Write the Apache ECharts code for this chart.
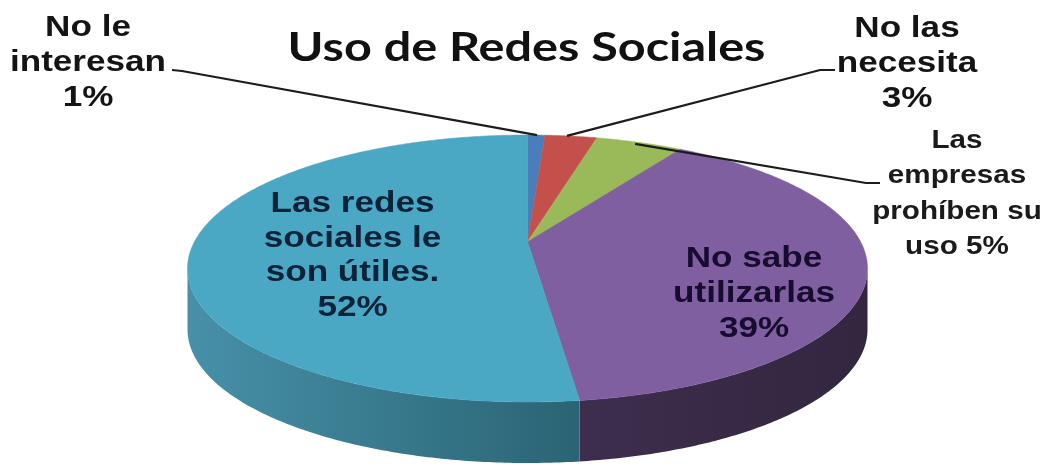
<!DOCTYPE html>
<html><head><meta charset="utf-8">
<style>html,body{margin:0;padding:0;background:#fff}#c{width:1047px;height:464px}</style>
<script src="https://cdn.jsdelivr.net/npm/echarts@6/dist/echarts.min.js"></script>
</head><body><div id="c"></div>
<script>
const title = 'Uso de Redes Sociales';
const categories = ['No le interesan', 'No las necesita', 'Las empresas prohíben su uso', 'No sabe utilizarlas', 'Las redes sociales le son útiles.'];
const values = [1, 3, 5, 39, 52];
const labelTexts = ['No le\ninteresan\n1%', 'No las\nnecesita\n3%', 'Las\nempresas\nprohíben su\nuso 5%', 'No sabe\nutilizarlas\n39%', 'Las redes\nsociales le\nson útiles.\n52%'];
const faceColors = ['#4a7ebb', '#c4504c', '#9aba59', '#7f5fa0', '#4aa8c4'];
const wallColors = [null, null, null, ['#3d2e4e', '#33263f'], ['#4790a8', '#2a6474']];
const textColors = ['#141414', '#141414', '#1a1a1a', '#170c30', '#0b2238'];
// layout (pixels): label centre, font size, width stretch, line height, leader label-side points
const labelPos = [[88, 63], [907, 64], [957, 194], [754, 294], [352.5, 256]];
const labelSize = [29, 29, 26, 29, 29];
const labelStretch = [1.21, 1.21, 1.14, 1.21, 1.21];
const labelLine = [35, 35, 35.5, 35, 34.5];
const leaderFrom = [[[172, 70], [182, 71]], [[835, 70], [820, 70]], [[880, 183], [866, 183]], null, null];
const leaderFrac = [0.55, 0.42, 0.45, 0.5, 0.5];

const cx = 527.5, cy = 268.5, rx = 340, ry = 133.5, persp = 0.2, depth = 61;
const total = values.reduce((a, b) => a + b, 0);
// circle angle (clockwise from top) -> projected point on the tilted disc
function pt(t, dy) {
  const x = Math.sin(t), y = Math.cos(t), w = 1 + persp * y;
  const X = x / w * Math.sqrt(1 - persp * persp) * rx;
  const Y = (y / w + persp / (1 - persp * persp)) * (1 - persp * persp) * ry;
  return [cx + X, cy - Y + (dy || 0)];
}
function arc(a, b, dy) {
  const n = Math.max(2, Math.ceil(Math.abs(b - a) / 0.01)), out = [];
  for (let i = 0; i <= n; i++) out.push(pt(a + (b - a) * i / n, dy));
  return out;
}
const wallA = Math.acos(-persp), wallB = 2 * Math.PI - wallA;
const starts = []; values.reduce((s, v, i) => (starts[i] = s, s + v), 0);

function renderItem(params, api) {
  const i = params.dataIndex, v = api.value(0), s0 = api.value(1);
  const a = s0 / total * 2 * Math.PI, b = (s0 + v) / total * 2 * Math.PI;
  const children = [];
  const wa = Math.max(a, wallA), wb = Math.min(b, wallB);
  if (wb > wa && wallColors[i]) {
    const top = arc(wa, wb, 0), bot = arc(wa, wb, depth).reverse();
    const xs = top.map(p => p[0]), x0 = Math.min(...xs), x1 = Math.max(...xs);
    children.push({ type: 'polygon', z2: 1, shape: { points: top.concat(bot) },
      style: { fill: new echarts.graphic.LinearGradient(x0, 0, x1, 0, [
        { offset: 0, color: wallColors[i][0] },
        { offset: 1, color: wallColors[i][1] }], true) } });
  }
  const apex = [cx, cy - persp * ry];
  children.push({ type: 'polygon', z2: 2, shape: { points: [apex].concat(arc(a, b, 0)) },
    style: { fill: faceColors[i], stroke: faceColors[i], lineWidth: 0.5 } });
  if (leaderFrom[i]) {
    const end = pt(a + (b - a) * leaderFrac[i], i === 2 ? 2 : 0);
    children.push({ type: 'polyline', z2: 3, shape: { points: leaderFrom[i].concat([end]) },
      style: { fill: null, stroke: '#1c1c1c', lineWidth: 2.2 } });
  }
  children.push({ type: 'text', z2: 4, x: labelPos[i][0], y: labelPos[i][1], scaleX: labelStretch[i],
    style: { text: labelTexts[i], fill: textColors[i], align: 'center', verticalAlign: 'middle',
      font: 'bold ' + labelSize[i] + 'px "Liberation Sans", Arial, sans-serif', lineHeight: labelLine[i] } });
  return { type: 'group', children };
}

const chart = echarts.init(document.getElementById('c'), null, { renderer: 'canvas' });
chart.setOption({
  backgroundColor: '#ffffff',
  animation: false,
  graphic: [{ type: 'text', x: 526.5, y: 48, scaleX: 1.185, z: 10,
    style: { text: title, fill: '#111', align: 'center', verticalAlign: 'middle', font: 'bold 41px Lato, sans-serif' } }],
  series: [{
    type: 'custom',
    coordinateSystem: 'none',
    renderItem,
    data: values.map((v, i) => ({ name: categories[i], value: [v, starts[i]] }))
  }]
});
</script></body></html>
